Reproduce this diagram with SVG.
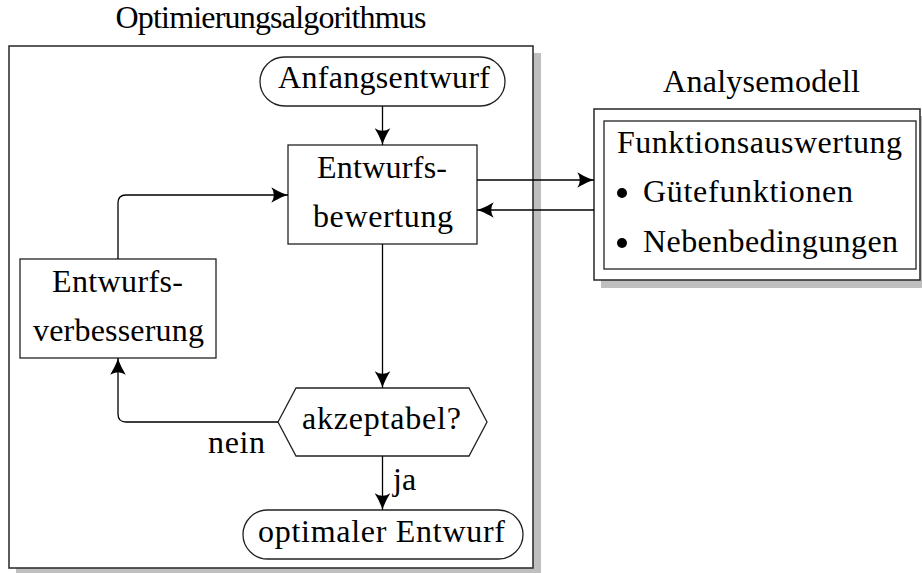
<svg xmlns="http://www.w3.org/2000/svg" width="922" height="573" viewBox="0 0 922 573">
  <style>
    text { font-family: "Liberation Serif", "Times New Roman", serif; font-size: 32px; fill: #000; }
    .mid { text-anchor: middle; }
    .box { fill: #fff; stroke: #222; stroke-width: 1.3; }
    .frame { fill: #fff; stroke: #333; stroke-width: 1.6; }
    .shadow { fill: #bfbfbf; stroke: none; }
    .conn { fill: none; stroke: #000; stroke-width: 1.3; }
  </style>
  <defs>
    <marker id="arrow" markerUnits="userSpaceOnUse" markerWidth="20" markerHeight="20" viewBox="-16 -8 18 16" refX="0" refY="0" orient="auto">
      <path d="M 0 0 C -4 -1 -10 -4 -15 -7 Q -10.5 0 -15 7 C -10 4 -4 1 0 0 Z" fill="#000"/>
    </marker>
  </defs>

  <!-- optimisation frame -->
  <g id="optimierung">
    <rect class="shadow" x="16" y="53" width="525" height="522"/>
    <rect class="frame" x="9" y="46" width="524" height="522"/>
    <text class="mid" x="271" y="28" textLength="311">Optimierungsalgorithmus</text>
  </g>

  <!-- analysis model frame -->
  <g id="analysemodell">
    <rect class="shadow" x="601" y="116" width="330" height="172"/>
    <rect class="frame" x="594" y="109" width="326" height="171"/>
    <rect class="box" x="604" y="121" width="312" height="148"/>
    <text class="mid" x="761.5" y="92" textLength="197">Analysemodell</text>
    <text x="617" y="153" textLength="285">Funktionsauswertung</text>
    <circle cx="622" cy="193" r="5"/>
    <text x="643" y="202" textLength="210">Gütefunktionen</text>
    <circle cx="622" cy="243" r="5"/>
    <text x="643" y="252" textLength="255">Nebenbedingungen</text>
  </g>

  <g id="anfangsentwurf">
    <rect class="box" x="260" y="57" width="245" height="49" rx="24.5" ry="24.5"/>
    <text class="mid" x="384" y="88" textLength="212">Anfangsentwurf</text>
  </g>

  <g id="entwurfsbewertung">
    <rect class="box" x="288" y="145" width="189" height="99"/>
    <text class="mid" x="382" y="178" textLength="130">Entwurfs-</text>
    <text class="mid" x="383" y="227" textLength="140">bewertung</text>
  </g>

  <g id="entwurfsverbesserung">
    <rect class="box" x="20" y="259" width="196" height="99"/>
    <text class="mid" x="117.5" y="292" textLength="131">Entwurfs-</text>
    <text class="mid" x="118.5" y="341" textLength="171">verbesserung</text>
  </g>

  <g id="akzeptabel">
    <polygon class="box" points="278,422 296,388 469,388 487,422 469,456 296,456"/>
    <text class="mid" x="381.5" y="429" textLength="159">akzeptabel?</text>
  </g>

  <g id="optimaler-entwurf">
    <rect class="box" x="243" y="510" width="280" height="49" rx="24.5" ry="24.5"/>
    <text class="mid" x="381.5" y="542" textLength="247">optimaler Entwurf</text>
  </g>

  <!-- connectors -->
  <g id="connectors">
    <path class="conn" d="M 382.5 106 V 145" marker-end="url(#arrow)"/>
    <path class="conn" d="M 382.5 244 V 388" marker-end="url(#arrow)"/>
    <path class="conn" d="M 382.5 456 V 510" marker-end="url(#arrow)"/>
    <path class="conn" d="M 278 422 H 126 Q 118 422 118 414 V 358" marker-end="url(#arrow)"/>
    <path class="conn" d="M 118 259 V 203 Q 118 195 126 195 H 288" marker-end="url(#arrow)"/>
    <path class="conn" d="M 477 180 H 594" marker-end="url(#arrow)"/>
    <path class="conn" d="M 594 210 H 477" marker-end="url(#arrow)"/>
    <text x="208" y="453" textLength="57">nein</text>
    <text x="393" y="490">ja</text>
  </g>
</svg>
